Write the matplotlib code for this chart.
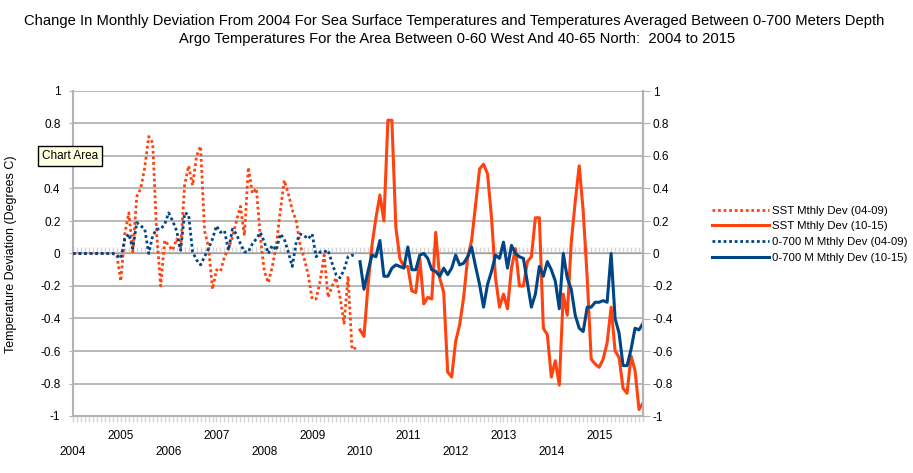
import numpy as np
import matplotlib
matplotlib.use("Agg")
import matplotlib.pyplot as plt
import matplotlib.transforms as mtransforms

# ---------------- data ----------------
years = list(range(2004, 2016))
n_months = 144

sst_0409 = [0, 0, 0, 0, 0, 0, 0, 0, 0, 0, 0, -0.01,
            -0.17, 0.12, 0.25, 0.01, 0.35, 0.40, 0.53, 0.72, 0.68, 0.12, -0.20, 0.08,
            0.05, 0.02, 0.09, 0.03, 0.42, 0.54, 0.42, 0.60, 0.66, 0.14, 0.04, -0.22,
            -0.10, -0.11, -0.02, 0.03, 0.10, 0.20, 0.29, 0.11, 0.53, 0.37, 0.40, 0.10,
            -0.11, -0.18, -0.08, 0.05, 0.26, 0.45, 0.37, 0.27, 0.20, 0.05, -0.03, -0.13,
            -0.28, -0.28, -0.17, -0.01, -0.27, -0.20, -0.15, -0.27, -0.43, -0.14, -0.59, -0.58]

sst_1015 = [-0.47, -0.51, -0.20, 0.05, 0.22, 0.36, 0.20, 0.82, 0.82, 0.16, -0.03, -0.08,
            -0.08, -0.23, -0.24, -0.03, -0.31, -0.27, -0.28, 0.13, -0.15, -0.24, -0.73, -0.76,
            -0.54, -0.44, -0.27, -0.03, 0.08, 0.30, 0.52, 0.55, 0.49, 0.22, -0.15, -0.33,
            -0.25, -0.34, -0.09, 0.03, -0.20, -0.20, -0.05, -0.02, 0.22, 0.22, -0.46, -0.50,
            -0.76, -0.66, -0.81, -0.25, -0.38, 0.07, 0.32, 0.54, 0.26, -0.15, -0.65, -0.68,
            -0.70, -0.65, -0.55, -0.33, -0.60, -0.64, -0.83, -0.86, -0.63, -0.72, -0.96, -0.92]

ocean_0409 = [0, 0, 0, 0, 0, 0, 0, 0, 0, 0, 0, -0.01,
              -0.03, 0.09, 0.12, 0.03, 0.19, 0.17, 0.15, 0.00, 0.11, 0.15, 0.15, 0.18,
              0.25, 0.20, 0.14, 0.02, 0.25, 0.24, 0.01, -0.04, -0.07, -0.02, 0.03, 0.09,
              0.17, 0.13, 0.14, 0.02, 0.15, 0.12, 0.06, 0.01, 0.01, 0.06, 0.09, 0.13,
              0.07, 0.00, 0.05, 0.02, 0.12, 0.09, 0.01, -0.08, 0.07, 0.12, 0.11, 0.09,
              0.12, -0.02, 0.01, 0.01, 0.02, -0.06, -0.13, -0.15, -0.10, -0.02, -0.01, -0.02]

ocean_1015 = [-0.05, -0.22, -0.11, -0.01, -0.02, 0.08, -0.14, -0.14, -0.09, -0.07, -0.08, -0.09,
              0.04, -0.10, -0.10, -0.01, 0.00, -0.03, -0.10, -0.11, -0.14, -0.09, -0.13, -0.09,
              -0.01, -0.07, -0.06, -0.02, 0.04, -0.08, -0.19, -0.33, -0.19, -0.11, -0.01, -0.03,
              0.07, -0.09, 0.05, 0.00, -0.02, -0.03, -0.18, -0.33, -0.25, -0.08, -0.14, -0.05,
              -0.10, -0.17, -0.34, 0.00, -0.15, -0.22, -0.38, -0.46, -0.48, -0.33, -0.33, -0.30,
              -0.30, -0.29, -0.30, 0.00, -0.40, -0.49, -0.69, -0.69, -0.59, -0.46, -0.47, -0.43]

series_labels = ["SST Mthly Dev (04-09)", "SST Mthly Dev (10-15)",
                 "0-700 M Mthly Dev (04-09)", "0-700 M Mthly Dev (10-15)"]
y_ticks = [-1, -0.8, -0.6, -0.4, -0.2, 0, 0.2, 0.4, 0.6, 0.8, 1]
y_tick_labels = ["-1", "-0.8", "-0.6", "-0.4", "-0.2", "0", "0.2", "0.4", "0.6", "0.8", "1"]
# the left "0.6" label is hidden under the "Chart Area" tooltip in the reference
y_tick_labels_left = ["-1", "-0.8", "-0.6", "-0.4", "-0.2", "0", "0.2", "0.4", "", "0.8", "1"]
title_lines = ["Change In Monthly Deviation From 2004 For Sea Surface Temperatures and Temperatures Averaged Between 0-700 Meters Depth",
               "Argo Temperatures For the Area Between 0-60 West And 40-65 North:  2004 to 2015"]
y_label = "Temperature Deviation (Degrees C)"

# ---------------- style ----------------
ORANGE = "#ff420e"
BLUE = "#004586"
GRID = "#b3b3b3"
plt.rcParams['font.family'] = ['Liberation Sans', 'DejaVu Sans']

W, H = 913, 473
fig = plt.figure(figsize=(W / 100, H / 100), dpi=100)
left_px, right_px, top_px, bot_px = 73, 643, 91, 416
ax = fig.add_axes([left_px / W, 1 - bot_px / H, (right_px - left_px) / W, (bot_px - top_px) / H])

idx_a = np.arange(0, len(sst_0409))
idx_b = np.arange(len(sst_0409), len(sst_0409) + len(sst_1015))

dot = (0, (1.0, 1.0))
ax.plot(idx_a, sst_0409, color=ORANGE, lw=2.0, linestyle=dot, label=series_labels[0], zorder=3)
ax.plot(idx_b, sst_1015, color=ORANGE, lw=2.2, label=series_labels[1], zorder=3)
ax.plot(idx_a, ocean_0409, color=BLUE, lw=2.0, linestyle=dot, label=series_labels[2], zorder=4)
ax.plot(idx_b, ocean_1015, color=BLUE, lw=2.2, label=series_labels[3], zorder=4)

ax.set_xlim(0, n_months - 1)
ax.set_ylim(-1, 1)
ax.set_yticks(y_ticks)
ax.set_yticklabels(y_tick_labels_left)
ax.yaxis.grid(True, color=GRID, lw=1.3)
ax.set_axisbelow(True)
ax.spines["top"].set_visible(False)
for s in ["left", "right", "bottom"]:
    ax.spines[s].set_color(GRID)
    ax.spines[s].set_linewidth(1.5)
ax.tick_params(axis='y', length=3, color=GRID, labelsize=8.5, pad=6)
ax.set_xticks([])
ax.set_xticks(np.arange(n_months), minor=True)
ax.tick_params(axis='x', which='minor', length=4, color="#d4d4d4", width=1.0)

# ticks hanging under the zero line
sec = ax.secondary_xaxis(0.5)
sec.set_xticks([])
sec.set_xticks(np.arange(n_months), minor=True)
sec.tick_params(axis='x', which='minor', length=4, color="#d4d4d4", width=1.0)
sec.spines['bottom'].set_visible(False)

# right axis
ax2 = ax.twinx()
ax2.set_ylim(-1, 1)
ax2.set_yticks(y_ticks)
ax2.set_yticklabels(y_tick_labels)
ax2.tick_params(axis='y', length=5, color=GRID, labelsize=8.5, pad=2)
for s in ["top", "left", "bottom"]:
    ax2.spines[s].set_visible(False)
ax2.spines['right'].set_color(GRID)
ax2.spines['right'].set_linewidth(1.5)

# year labels, staggered
trans = mtransforms.blended_transform_factory(ax.transData, ax.transAxes)
for k, yr in enumerate(years):
    yrow = -0.111 if k % 2 == 0 else -0.0615
    ax.text(12 * k, yrow, str(yr), transform=trans, ha='center', va='center', fontsize=8.5)

# titles
fig.text(454 / W, 1 - 21 / H, title_lines[0], ha='center', va='center', fontsize=10.6)
fig.text(457 / W, 1 - 39 / H, title_lines[1], ha='center', va='center', fontsize=10.6)

fig.text(11 / W, 1 - 254 / H, y_label, rotation=90, ha='center', va='center', fontsize=9.0)

# legend
handles, labels = ax.get_legend_handles_labels()
leg = fig.legend(handles, labels, loc='upper left', bbox_to_anchor=(707 / W, 1 - 201 / H),
                 frameon=False, fontsize=8.2, handlelength=5.0, handletextpad=0.35,
                 labelspacing=0.5, borderaxespad=0)

# tooltip box from the screenshot
fig.text(42 / W, 1 - 156 / H, "Chart Area", ha='left', va='center', fontsize=8.5, zorder=10,
         bbox=dict(boxstyle='square,pad=0.3', facecolor='#ffffe1', edgecolor='black', lw=1.0))

fig.savefig("out.png", dpi=100)
